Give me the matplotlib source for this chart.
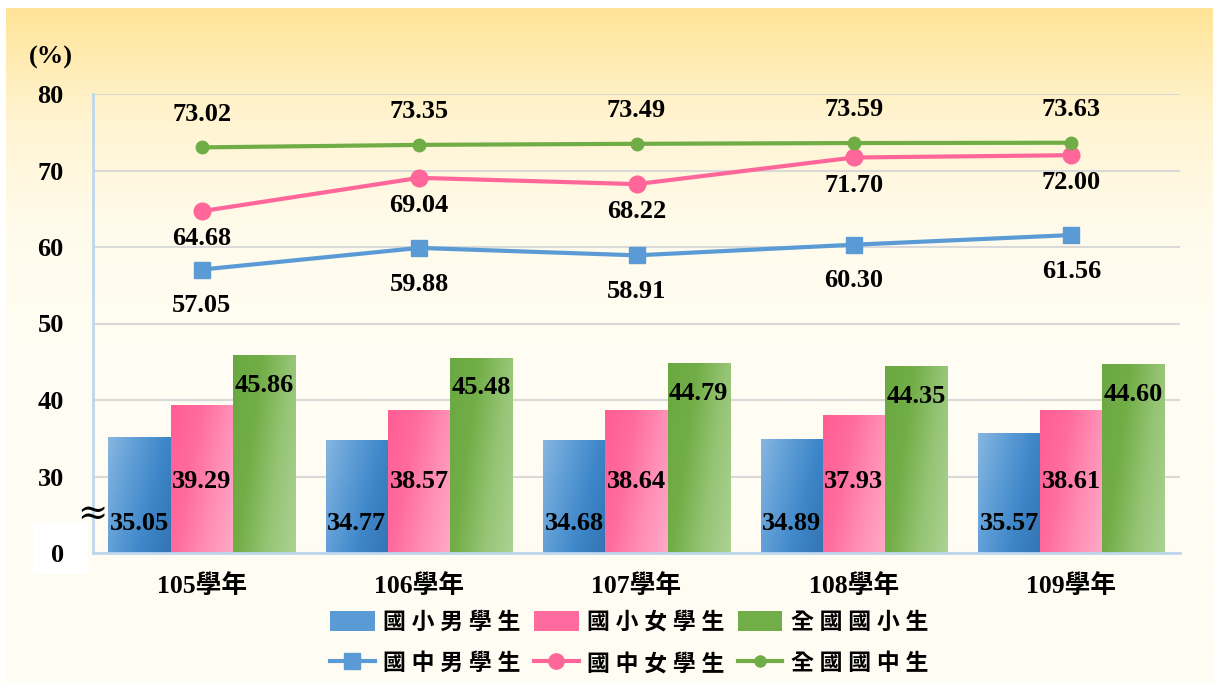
import numpy as np
import matplotlib
matplotlib.use("Agg")
from matplotlib import pyplot as plt
from matplotlib.colors import LinearSegmentedColormap
from matplotlib.patches import Rectangle, Patch
from matplotlib.lines import Line2D

plt.rcParams['font.family'] = ['Liberation Serif', 'Noto Sans CJK TC']
plt.rcParams['font.weight'] = 'bold'

# Data
years = ['105學年', '106學年', '107學年', '108學年', '109學年']
elem_boys = [35.05, 34.77, 34.68, 34.89, 35.57]
elem_girls = [39.29, 38.57, 38.64, 37.93, 38.61]
elem_all = [45.86, 45.48, 44.79, 44.35, 44.60]
junior_boys = [57.05, 59.88, 58.91, 60.30, 61.56]
junior_girls = [64.68, 69.04, 68.22, 71.70, 72.00]
junior_all = [73.02, 73.35, 73.49, 73.59, 73.63]
bar_labels = ['國小男學生', '國小女學生', '全國國小生']
line_labels = ['國中男學生', '國中女學生', '全國國中生']
ytick_vals = [20, 30, 40, 50, 60, 70, 80]
ytick_text = ['0', '30', '40', '50', '60', '70', '80']

BASE = 20  # the broken axis: "0" sits where 20 would be

W, H = 1213, 683
fig = plt.figure(figsize=(W / 100, H / 100), dpi=100, facecolor='white')

# background gradient panel
bg = fig.add_axes([6 / W, 0, 1 - 6 / W, 675 / H], zorder=-10)
bg.axis('off')
t = np.linspace(0, 1, 256)
grad = np.clip(t / 0.5, 0, 1)[:, None]
bg_cmap = LinearSegmentedColormap.from_list('bg', ['#FFE498', '#FFF4D2', '#FFFBEC', '#FFFDF3'])
bg.imshow(grad, cmap=bg_cmap, aspect='auto', extent=[0, 1, 0, 1], origin='upper')
bg.set_xlim(0, 1)
bg.set_ylim(0, 1)

ax = fig.add_axes([93 / W, 130 / H, 1087 / W, 459 / H])
ax.patch.set_alpha(0)

x = np.arange(len(years))
bw = 0.286

bar_cmaps = [
    LinearSegmentedColormap.from_list('b', ['#86B6E0', '#5E9DD6', '#3D86C8', '#3574B3']),
    LinearSegmentedColormap.from_list('p', ['#FF5E94', '#FF6B9E', '#FF8DB4', '#FFAAC6']),
    LinearSegmentedColormap.from_list('g', ['#6AA842', '#72AE48', '#95C474', '#ACD292']),
]
gx, gy = np.meshgrid(np.linspace(0, 1, 40), np.linspace(0, 1, 80))
diag = (gx * 0.7 + gy * 0.3)  # image rows run top->bottom with origin upper

series = [elem_boys, elem_girls, elem_all]
offsets = [-bw, 0, bw]
for vals, off, cm in zip(series, offsets, bar_cmaps):
    for xi, v in zip(x, vals):
        x0 = xi + off - bw / 2
        ax.imshow(diag, cmap=cm, extent=[x0, x0 + bw, BASE, v], aspect='auto',
                  origin='upper', zorder=2, interpolation='bilinear')

# bar value labels
fs = 19
for xi, v in zip(x, elem_boys):
    ax.text(xi - bw, 23.9, f'{v:.2f}', ha='center', va='center', fontsize=fs, zorder=5)
for xi, v in zip(x, elem_girls):
    ax.text(xi, 29.3, f'{v:.2f}', ha='center', va='center', fontsize=fs, zorder=5)
for xi, v in zip(x, elem_all):
    ax.text(xi + bw, v - 3.9, f'{v:.2f}', ha='center', va='center', fontsize=fs, zorder=5)

# lines
ax.plot(x, junior_boys, color='#5B9BD5', lw=3, marker='s', ms=11, zorder=4)
ax.plot(x, junior_girls, color='#FF6699', lw=3, marker='o', ms=12, zorder=4)
ax.plot(x, junior_all, color='#70AD47', lw=3, marker='o', ms=9, zorder=4)

for xi, v in zip(x, junior_boys):
    ax.annotate(f'{v:.2f}', (xi, v), xytext=(0, -26), textcoords='offset points',
                ha='center', va='center', fontsize=fs, zorder=5)
for xi, v in zip(x, junior_girls):
    ax.annotate(f'{v:.2f}', (xi, v), xytext=(0, -20), textcoords='offset points',
                ha='center', va='center', fontsize=fs, zorder=5)
for xi, v in zip(x, junior_all):
    ax.annotate(f'{v:.2f}', (xi, v), xytext=(0, 24), textcoords='offset points',
                ha='center', va='center', fontsize=fs, zorder=5)

ax.set_xlim(-0.5, len(years) - 0.5)
ax.set_ylim(BASE, 80)
ax.set_yticks(ytick_vals)
ax.set_yticklabels(ytick_text, fontsize=19)
ax.set_xticks(x)
ax.set_xticklabels(years, fontsize=18.5)
ax.tick_params(axis='y', length=0, pad=21)
ax.tick_params(axis='x', length=0, pad=15)
ax.yaxis.grid(True, color='#D9D9D9', lw=1.5, zorder=0)
ax.set_axisbelow(True)
for s in ['top', 'right']:
    ax.spines[s].set_visible(False)
for s in ['left', 'bottom']:
    ax.spines[s].set_color('#BDD7EE')
    ax.spines[s].set_linewidth(2)

# white box behind "0", unit label and break mark
fig.add_artist(Rectangle((33 / W, (H - 574) / H), 55 / W, 51 / H, transform=fig.transFigure,
                         facecolor='white', edgecolor='none', zorder=-5))
fig.text(51 / W, 1 - 57 / H, '(%)', ha='center', va='center', fontsize=19)
fig.text(92 / W, 1 - 514 / H, '≈', ha='center', va='center', fontsize=26,
         family=['DejaVu Serif'], fontweight='normal')

# legend
handles = [
    Patch(facecolor='#5B9BD5'), Line2D([], [], color='#5B9BD5', lw=3, marker='s', ms=11),
    Patch(facecolor='#FF6B9E'), Line2D([], [], color='#FF6699', lw=3, marker='o', ms=11),
    Patch(facecolor='#72AE48'), Line2D([], [], color='#70AD47', lw=3, marker='o', ms=8),
]
labels = [bar_labels[0], line_labels[0], bar_labels[1], line_labels[1], bar_labels[2], line_labels[2]]
labels = [' '.join(s) for s in labels]
fig.legend(handles, labels, ncol=3, loc='center', bbox_to_anchor=(629 / W, 1 - 643 / H),
           frameon=False, fontsize=16.5, handlelength=1.95, handleheight=1.0,
           columnspacing=0.6, handletextpad=0.35, labelspacing=0.8)

fig.savefig('out.png', dpi=100)
